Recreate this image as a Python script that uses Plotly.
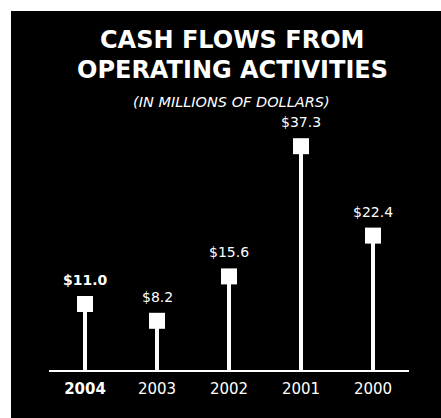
import plotly.graph_objects as go

# Operating cash flows, in millions of dollars
years = ["2004", "2003", "2002", "2001", "2000"]
values = [11.0, 8.2, 15.6, 37.3, 22.4]
value_labels = ["$11.0", "$8.2", "$15.6", "$37.3", "$22.4"]
tick_labels = ["<b>2004</b>", "2003", "2002", "2001", "2000"]

W, H = 441, 418
ML, MR, MT, MB = 49, 32, 70, 48
PW, PH = W - ML - MR, H - MT - MB

FONT = "DejaVu Sans"
xpos = list(range(len(years)))

fig = go.Figure()

# thin white stems
fig.add_trace(go.Bar(
    x=xpos, y=values, width=0.065,
    marker=dict(color="white", line=dict(width=0)),
    hoverinfo="skip", showlegend=False,
))

# square caps at each value
fig.add_trace(go.Scatter(
    x=xpos, y=values, mode="markers",
    marker=dict(symbol="square", size=16, color="white", line=dict(width=0)),
    showlegend=False,
))

# value labels above the caps (current year in bold)
for i, (v, lab) in enumerate(zip(values, value_labels)):
    fig.add_annotation(
        x=xpos[i], y=v, text=f"<b>{lab}</b>" if i == 0 else lab,
        showarrow=False, yshift=24,
        font=dict(family=FONT, size=14, color="white"),
    )

# black panel behind everything
def px_to_paper_x(px):
    return (px - ML) / PW

def px_to_paper_y(py):
    return (H - MB - py) / PH

fig.add_shape(
    type="rect", xref="paper", yref="paper", layer="below",
    x0=px_to_paper_x(11), x1=px_to_paper_x(W + 2),
    y0=px_to_paper_y(H + 2), y1=px_to_paper_y(11),
    fillcolor="black", line=dict(width=0),
)

# titles
fig.add_annotation(
    xref="paper", yref="paper", x=px_to_paper_x(232), y=px_to_paper_y(40),
    xanchor="center", yanchor="middle", showarrow=False,
    text="<b>CASH FLOWS FROM</b>",
    font=dict(family=FONT, size=24, color="white"),
)
fig.add_annotation(
    xref="paper", yref="paper", x=px_to_paper_x(232), y=px_to_paper_y(70),
    xanchor="center", yanchor="middle", showarrow=False,
    text="<b>OPERATING ACTIVITIES</b>",
    font=dict(family=FONT, size=24, color="white"),
)
fig.add_annotation(
    xref="paper", yref="paper", x=px_to_paper_x(231), y=px_to_paper_y(102),
    xanchor="center", yanchor="middle", showarrow=False,
    text="<i>(IN MILLIONS OF DOLLARS)</i>",
    font=dict(family=FONT, size=14.5, color="white"),
)

fig.update_layout(
    width=W, height=H,
    margin=dict(l=ML, r=MR, t=MT, b=MB, pad=0),
    paper_bgcolor="white", plot_bgcolor="rgba(0,0,0,0)",
    bargap=0, showlegend=False,
)
fig.update_xaxes(
    range=[-0.5, len(years) - 0.5], tickmode="array", tickvals=xpos, ticktext=tick_labels,
    showgrid=False, zeroline=False, showline=True, linecolor="white", linewidth=2,
    ticks="", ticklabelstandoff=4,
    tickfont=dict(family=FONT, size=15, color="white"),
    fixedrange=True,
)
fig.update_yaxes(
    range=[0, 50], visible=False, showgrid=False, zeroline=False, fixedrange=True,
)

fig.write_html("out.html", config={"displayModeBar": False})
